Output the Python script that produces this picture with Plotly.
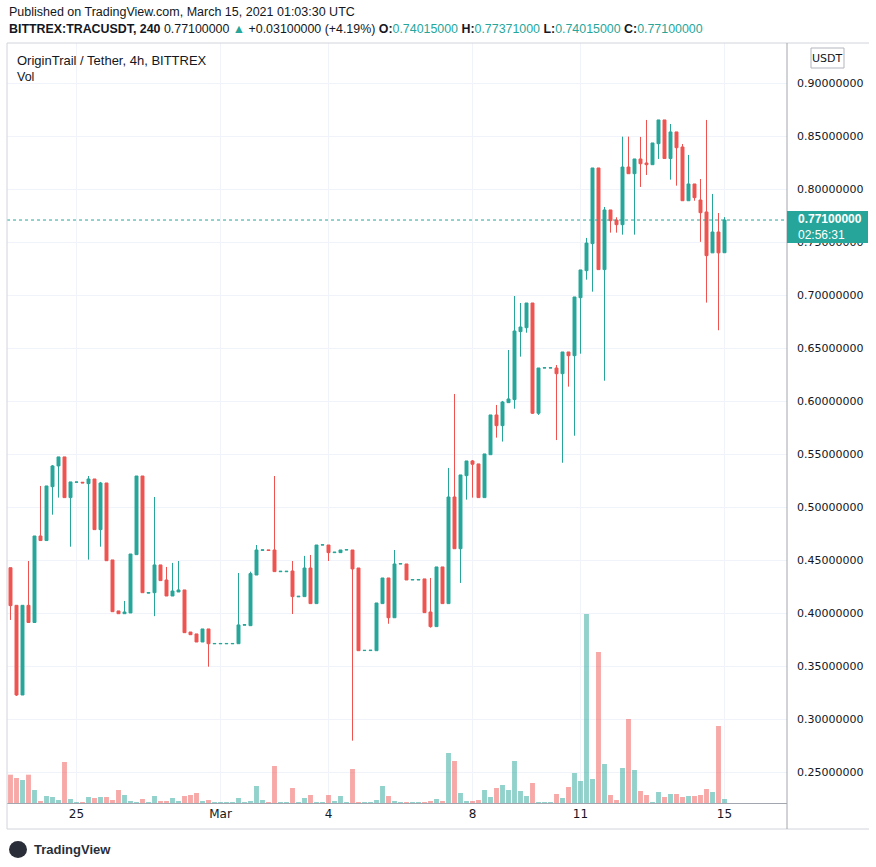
import plotly.graph_objects as go
import pandas as pd

# ---------------- data (4h candles, TRAC/USDT, BITTREX) ----------------
start_time = "2021-02-23 04:00"
n_candles = 120

opens = [0.4430, 0.4075, 0.3229, 0.4075, 0.3913, 0.4729, 0.4686, 0.5194, 0.5390, 0.5475,
         0.5091, 0.5236, 0.5236, 0.5223, 0.5267, 0.4789, 0.5229, 0.4503, 0.4022, 0.3996,
         0.4003, 0.4553, 0.5295, 0.4190, 0.4194, 0.4456, 0.4314, 0.4163, 0.4201, 0.4220,
         0.3823, 0.3805, 0.3729, 0.3852, 0.3712, 0.3712, 0.3712, 0.3712, 0.3713, 0.3888,
         0.3883, 0.4361, 0.4594, 0.4598, 0.4597, 0.4392, 0.4392, 0.4399, 0.4155, 0.4157,
         0.4427, 0.4091, 0.4644, 0.4644, 0.4572, 0.4572, 0.4597, 0.4597, 0.4427, 0.3648,
         0.3648, 0.3647, 0.4091, 0.4333, 0.3958, 0.4465, 0.4465, 0.4314, 0.4314, 0.4324,
         0.4012, 0.3874, 0.4437, 0.4091, 0.5097, 0.4609, 0.5298, 0.5437, 0.5409, 0.5091,
         0.5496, 0.5871, 0.5770, 0.5987, 0.6016, 0.6657, 0.6694, 0.6927, 0.5887, 0.6314,
         0.6314, 0.6314, 0.6260, 0.6465, 0.6430, 0.6977, 0.7232, 0.7487, 0.8201, 0.7242,
         0.7805, 0.7710, 0.7666, 0.8210, 0.8147, 0.8286, 0.8248, 0.8232, 0.8430, 0.8654,
         0.8290, 0.8541, 0.8399, 0.7892, 0.8050, 0.7899, 0.7786, 0.7400, 0.7597, 0.74015]

highs = [0.4430, 0.4075, 0.4075, 0.4493, 0.4729, 0.5201, 0.5201, 0.5399, 0.5475, 0.5475,
         0.5239, 0.5240, 0.5238, 0.5295, 0.5267, 0.5239, 0.5229, 0.4503, 0.4022, 0.4116,
         0.4559, 0.5295, 0.5295, 0.4196, 0.5097, 0.4456, 0.4437, 0.4475, 0.4493, 0.4220,
         0.3823, 0.3805, 0.3852, 0.3852, 0.3715, 0.3715, 0.3715, 0.3715, 0.4380, 0.3892,
         0.4392, 0.4644, 0.4598, 0.4598, 0.5295, 0.4396, 0.4396, 0.4493, 0.4160, 0.4541,
         0.4550, 0.4644, 0.4646, 0.4644, 0.4576, 0.4597, 0.4600, 0.4597, 0.4427, 0.3650,
         0.3651, 0.4097, 0.4333, 0.4333, 0.4597, 0.4468, 0.4465, 0.4318, 0.4318, 0.4324,
         0.4333, 0.4437, 0.4437, 0.5371, 0.6069, 0.5305, 0.5437, 0.5446, 0.5409, 0.5503,
         0.5871, 0.5965, 0.6003, 0.6484, 0.6993, 0.6927, 0.6927, 0.6927, 0.6314, 0.6316,
         0.6316, 0.6342, 0.6465, 0.6465, 0.6984, 0.7239, 0.7541, 0.8201, 0.8201, 0.7833,
         0.7805, 0.7736, 0.8497, 0.8497, 0.8286, 0.8494, 0.8654, 0.8437, 0.8654, 0.8654,
         0.8616, 0.8541, 0.8427, 0.8324, 0.8050, 0.8097, 0.8654, 0.7956, 0.7776, 0.77371]

lows = [0.3937, 0.3220, 0.3229, 0.3913, 0.3913, 0.4686, 0.4686, 0.4930, 0.5091, 0.5091,
        0.4628, 0.5234, 0.5228, 0.4506, 0.4789, 0.4628, 0.4496, 0.4015, 0.3996, 0.3996,
        0.4003, 0.4553, 0.4194, 0.4188, 0.3973, 0.4308, 0.4163, 0.4163, 0.4201, 0.3817,
        0.3798, 0.3729, 0.3729, 0.3496, 0.3712, 0.3712, 0.3712, 0.3712, 0.3713, 0.3888,
        0.3883, 0.4361, 0.4594, 0.4592, 0.4393, 0.4392, 0.4392, 0.3993, 0.4155, 0.4157,
        0.4091, 0.4091, 0.4644, 0.4493, 0.4572, 0.4572, 0.4597, 0.2798, 0.3647, 0.3648,
        0.3648, 0.3647, 0.4091, 0.3901, 0.3958, 0.4465, 0.4314, 0.4314, 0.4314, 0.4006,
        0.3864, 0.3874, 0.4091, 0.4091, 0.4609, 0.4286, 0.5072, 0.5091, 0.5091, 0.5091,
        0.5496, 0.5657, 0.5620, 0.5987, 0.5930, 0.6421, 0.6647, 0.5880, 0.5871, 0.6314,
        0.6314, 0.5634, 0.5420, 0.6138, 0.5675, 0.6449, 0.7147, 0.7034, 0.7242, 0.6194,
        0.7591, 0.7591, 0.7572, 0.8147, 0.7572, 0.8022, 0.8135, 0.8232, 0.8286, 0.8290,
        0.8091, 0.8034, 0.7892, 0.7892, 0.7892, 0.7504, 0.6931, 0.7400, 0.6670, 0.74015]

closes = [0.4072, 0.3229, 0.4075, 0.3913, 0.4729, 0.4686, 0.5201, 0.5390, 0.5475, 0.5091,
          0.5239, 0.5238, 0.5230, 0.5267, 0.4789, 0.5229, 0.4496, 0.4015, 0.3996, 0.4012,
          0.4559, 0.5295, 0.4194, 0.4196, 0.4456, 0.4308, 0.4163, 0.4210, 0.4220, 0.3817,
          0.3798, 0.3729, 0.3852, 0.3713, 0.3715, 0.3715, 0.3715, 0.3715, 0.3890, 0.3892,
          0.4374, 0.4597, 0.4598, 0.4592, 0.4393, 0.4396, 0.4396, 0.4157, 0.4160, 0.4427,
          0.4091, 0.4644, 0.4646, 0.4572, 0.4576, 0.4597, 0.4600, 0.4418, 0.3647, 0.3650,
          0.3651, 0.4097, 0.4333, 0.3958, 0.4465, 0.4468, 0.4314, 0.4318, 0.4318, 0.4006,
          0.3874, 0.4437, 0.4091, 0.5097, 0.4609, 0.5305, 0.5437, 0.5406, 0.5091, 0.5503,
          0.5871, 0.5770, 0.5993, 0.6022, 0.6663, 0.6701, 0.6927, 0.5887, 0.6314, 0.6316,
          0.6316, 0.6260, 0.6465, 0.6430, 0.6984, 0.7239, 0.7493, 0.8201, 0.7242, 0.7805,
          0.7704, 0.7666, 0.8210, 0.8147, 0.8286, 0.8241, 0.8232, 0.8437, 0.8654, 0.8290,
          0.8541, 0.8392, 0.7892, 0.8050, 0.7921, 0.7779, 0.7374, 0.7597, 0.7400, 0.7710]

# volume (thousand TRAC)
volumes = [283, 250, 230, 283, 130, 20, 70, 60, 30, 410,
           40, 10, 10, 60, 50, 60, 60, 30, 130, 80,
           20, 10, 40, 10, 70, 20, 20, 50, 20, 70,
           80, 100, 20, 30, 10, 10, 10, 10, 50, 10,
           20, 170, 30, 10, 370, 10, 10, 150, 10, 50,
           80, 10, 10, 80, 20, 70, 10, 340, 10, 10,
           10, 30, 170, 70, 20, 10, 10, 10, 10, 10,
           20, 40, 20, 500, 420, 100, 20, 20, 30, 130,
           60, 150, 180, 130, 420, 120, 70, 200, 10, 10,
           10, 90, 50, 160, 300, 220, 1890, 240, 1510, 390,
           80, 30, 350, 840, 330, 120, 80, 10, 110, 60,
           90, 90, 60, 70, 70, 80, 140, 110, 770, 40]

x_tick_dates = ["2021-02-25", "2021-03-01", "2021-03-04", "2021-03-08", "2021-03-11", "2021-03-15"]
x_tick_labels = ["25", "Mar", "4", "8", "11", "15"]
price_ticks = [0.25, 0.30, 0.35, 0.40, 0.45, 0.50, 0.55, 0.60, 0.65, 0.70, 0.75, 0.80, 0.85, 0.90]
last_price = 0.771

# ---------------- styling ----------------
UP = "#26a69a"
DOWN = "#ef5350"
UP_VOL = "rgba(38,166,154,0.5)"
DOWN_VOL = "rgba(239,83,80,0.5)"
TXT = "#131722"
GRID = "#f0f3fa"
AXIS = "#a3a6af"
FONT = "Liberation Sans"
AXFONT = "DejaVu Sans"

W, H = 876, 867
L, R, T, B = 7, 787, 43, 803   # plot area in pixels


def px_x(px):
    return (px - L) / (R - L)


def px_y(py):
    return (B - py) / (B - T)


times = pd.date_range(start_time, periods=n_candles, freq="4h")
vol_colors = [UP_VOL if c >= o else DOWN_VOL for o, c in zip(opens, closes)]

fig = go.Figure()

fig.add_trace(go.Bar(
    x=times, y=volumes, yaxis="y2",
    marker=dict(color=vol_colors, line=dict(width=0)),
    width=4 * 3600 * 1000 * 0.82,
    hoverinfo="skip",
))

fig.add_trace(go.Candlestick(
    x=times, open=opens, high=highs, low=lows, close=closes,
    increasing=dict(line=dict(color=UP, width=1), fillcolor=UP),
    decreasing=dict(line=dict(color=DOWN, width=1), fillcolor=DOWN),
    whiskerwidth=0,
))

shapes = []
# last price dotted line
shapes.append(dict(type="line", xref="paper", yref="y", x0=0, x1=1, y0=last_price, y1=last_price,
                   line=dict(color=UP, width=1, dash="dot"), layer="above"))
# frame lines
shapes.append(dict(type="line", xref="paper", yref="paper", x0=px_x(L), x1=px_x(869), y0=px_y(T), y1=px_y(T),
                   line=dict(color="#d1d4dc", width=1)))
shapes.append(dict(type="line", xref="paper", yref="paper", x0=px_x(L), x1=px_x(L), y0=px_y(829), y1=px_y(T),
                   line=dict(color="#d1d4dc", width=1)))
shapes.append(dict(type="line", xref="paper", yref="paper", x0=px_x(L), x1=px_x(869), y0=px_y(829), y1=px_y(829),
                   line=dict(color="#d1d4dc", width=1)))
shapes.append(dict(type="line", xref="paper", yref="paper", x0=px_x(R), x1=px_x(R), y0=px_y(829), y1=px_y(T),
                   line=dict(color=AXIS, width=1)))
# last price label box
shapes.append(dict(type="rect", xref="paper", yref="paper", x0=px_x(R), x1=px_x(868), y0=px_y(243), y1=px_y(211),
                   fillcolor=UP, line=dict(width=0), layer="above"))
# USDT box
shapes.append(dict(type="rect", xref="paper", yref="paper", x0=px_x(811), x1=px_x(844), y0=px_y(68), y1=px_y(48),
                   fillcolor="white", line=dict(color="#b2b5be", width=1), layer="above"))
# TradingView logo icon
shapes.append(dict(type="circle", xref="paper", yref="paper", x0=px_x(9), x1=px_x(27), y0=px_y(858), y1=px_y(841),
                   fillcolor="#2a2e39", line=dict(width=0)))

annotations = [
    dict(text="Published on TradingView.com, March 15, 2021 01:03:30 UTC",
         x=px_x(7), y=px_y(12), xanchor="left", yanchor="middle",
         font=dict(size=12.5, color=TXT)),
    dict(text=("<b>BITTREX:TRACUSDT, 240</b> 0.77100000 <span style='color:%s'>▲</span> +0.03100000 (+4.19%%) "
               "<b>O:</b><span style='color:%s'>0.74015000</span> "
               "<b>H:</b><span style='color:%s'>0.77371000</span> "
               "<b>L:</b><span style='color:%s'>0.74015000</span> "
               "<b>C:</b><span style='color:%s'>0.77100000</span>") % (UP, UP, UP, UP, UP),
         x=px_x(7), y=px_y(29), xanchor="left", yanchor="middle",
         font=dict(size=12.4, color=TXT)),
    dict(text="OriginTrail / Tether, 4h, BITTREX",
         x=px_x(15), y=px_y(60), xanchor="left", yanchor="middle",
         font=dict(size=13, color=TXT)),
    dict(text="Vol", x=px_x(15), y=px_y(77), xanchor="left", yanchor="middle",
         font=dict(size=12.5, color=TXT)),
    dict(text="USDT", x=px_x(827.5), y=px_y(58), xanchor="center", yanchor="middle",
         font=dict(size=11, color=TXT, family=AXFONT)),
    dict(text="<b>%.8f</b>" % last_price, x=px_x(796), y=px_y(219), xanchor="left", yanchor="middle",
         font=dict(size=12, color="white", family=FONT)),
    dict(text="02:56:31", x=px_x(796), y=px_y(235), xanchor="left", yanchor="middle",
         font=dict(size=12, color="white", family=FONT)),
    dict(text="<b>TradingView</b>", x=px_x(32), y=px_y(849), xanchor="left", yanchor="middle",
         font=dict(size=13, color="#2a2e39")),
]
for a in annotations:
    a.update(xref="paper", yref="paper", showarrow=False)

x_left = pd.Timestamp("2021-02-23 01:40")
x_right = pd.Timestamp("2021-03-16 17:40")

fig.update_layout(
    width=W, height=H,
    margin=dict(l=L, r=W - R, t=T, b=H - B, pad=0),
    paper_bgcolor="white", plot_bgcolor="white",
    showlegend=False,
    font=dict(family=FONT, color=TXT, size=12),
    shapes=shapes, annotations=annotations,
    hovermode=False,
    xaxis=dict(
        type="date", range=[x_left, x_right],
        tickvals=x_tick_dates, ticktext=x_tick_labels,
        showgrid=True, gridcolor=GRID, gridwidth=1,
        showline=True, linecolor=AXIS, linewidth=1,
        ticks="", zeroline=False,
        tickfont=dict(size=12, color=TXT, family=AXFONT),
        rangeslider=dict(visible=False),
    ),
    yaxis=dict(
        side="right", range=[0.2210, 0.9380],
        tickvals=price_ticks, ticktext=["%.8f" % v for v in price_ticks],
        showgrid=True, gridcolor=GRID, gridwidth=1,
        showline=False, zeroline=False, ticks="",
        ticklabelstandoff=9,
        tickfont=dict(size=11, color=TXT, family=AXFONT),
    ),
    yaxis2=dict(
        overlaying="y", range=[0, 1890 * 760 / 189], visible=False,
        showgrid=False, zeroline=False,
    ),
)

fig.write_html("out.html",
               config={"displayModeBar": False, "staticPlot": True},
               post_script="document.body.style.margin='0';document.body.style.padding='0';")
